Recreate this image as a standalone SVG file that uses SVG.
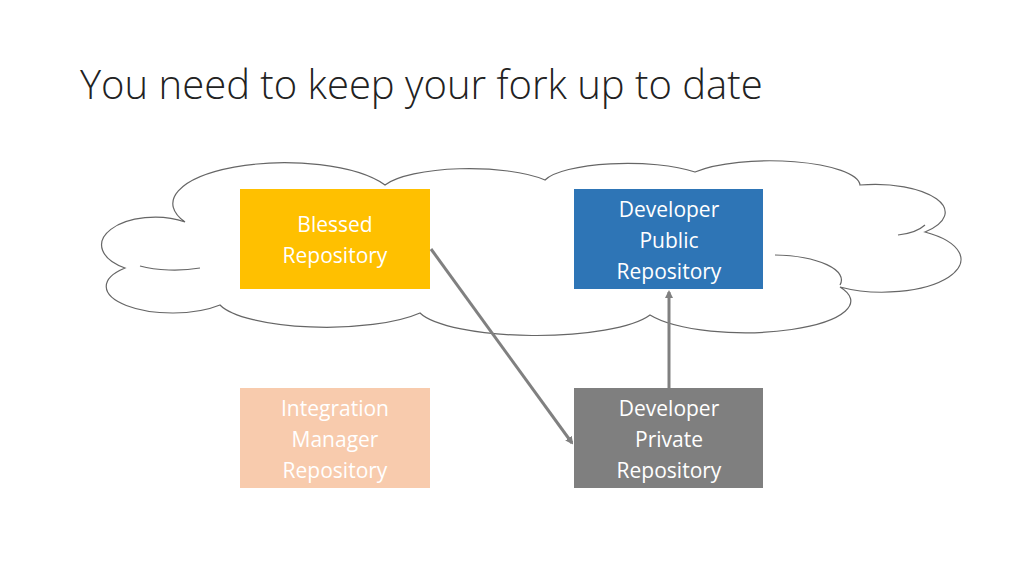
<svg xmlns="http://www.w3.org/2000/svg" width="1024" height="576" viewBox="0 0 1024 576">
<defs>
<style>
.t{font-family:"Open Sans","Liberation Sans",sans-serif;font-size:21px;fill:#fff;text-anchor:middle}
.c{stroke:#808080;stroke-width:3;fill:none}
</style>
<marker id="a" markerWidth="8" markerHeight="8" refX="6" refY="4" orient="auto" markerUnits="userSpaceOnUse"><path d="M0,0L8,4L0,8z" fill="#808080"/></marker>
</defs>
<rect width="1024" height="576" fill="#fff"/>
<text x="80" y="99" font-family="'Open Sans','Liberation Sans',sans-serif" font-weight="300" font-size="40" fill="#222">You need to keep your fork up to date</text>
<g id="cloud" fill="#fff" stroke="#666" stroke-width="1.2">
<path d="M125,268 A48,25 0 0 1 185,222 A110,40 0 0 1 385,185 A90,25 0 0 1 545,180 A85,22 0 0 1 695,172 A90,25 0 0 1 860,185 A70,28 0 0 1 925,232 A60,25 0 0 1 840,287 A100,30 0 0 1 650,315 A120,30 0 0 1 420,313 A110,30 0 0 1 220,305 A55,22 0 0 1 125,268 Z"/>
<path d="M200,268 A50,15 0 0 1 140,266" fill="none"/>
<path d="M775,255 A70,25 0 0 1 840,285" fill="none"/>
<path d="M898,235 A40,20 0 0 0 925,225" fill="none"/>
</g>
<g id="blessed"><rect x="240" y="189" width="190" height="100" fill="#FFC000"/><text class="t" x="335" y="232">Blessed</text><text class="t" x="335" y="263">Repository</text></g>
<g id="public"><rect x="574" y="189" width="189" height="100" fill="#2E75B6"/><text class="t" x="669" y="217">Developer</text><text class="t" x="669" y="248">Public</text><text class="t" x="669" y="279">Repository</text></g>
<g id="integration"><rect x="240" y="388" width="190" height="100" fill="#F8CBAD"/><text class="t" x="335" y="416">Integration</text><text class="t" x="335" y="447">Manager</text><text class="t" x="335" y="478">Repository</text></g>
<g id="private"><rect x="574" y="388" width="189" height="100" fill="#7F7F7F"/><text class="t" x="669" y="416">Developer</text><text class="t" x="669" y="447">Private</text><text class="t" x="669" y="478">Repository</text></g>
<g id="connectors">
<line class="c" x1="431" y1="249" x2="572" y2="443" marker-end="url(#a)"/>
<line class="c" x1="669" y1="388" x2="669" y2="292" marker-end="url(#a)"/>
</g>
</svg>
